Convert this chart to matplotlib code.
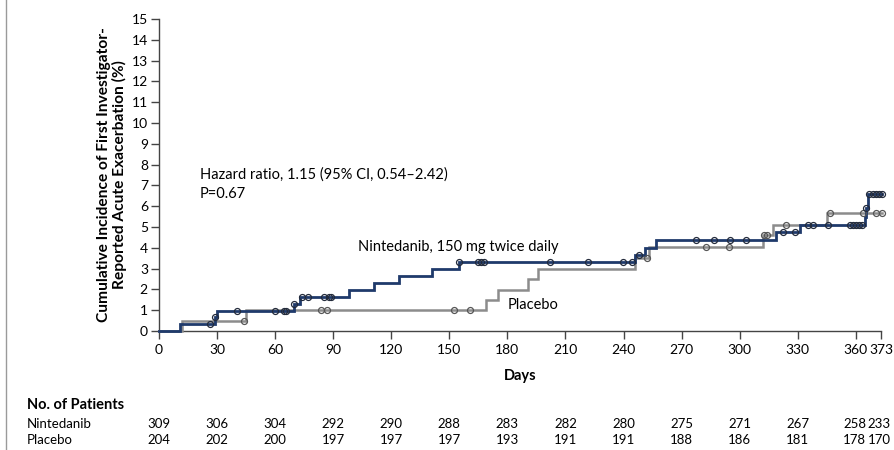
import matplotlib
matplotlib.use("Agg")
import matplotlib.pyplot as plt
from matplotlib.lines import Line2D
import numpy as np

plt.rcParams['font.family'] = ['Lato', 'DejaVu Sans']

# Kaplan-Meier style cumulative incidence: step times (days) and levels (%)
nint_times = [0, 11, 29, 30, 70, 73, 98, 111, 124, 141, 155, 246, 251, 257,
              318.5, 331, 364.5, 365.5, 366.5]
nint_pct = [0, 0.33, 0.65, 0.98, 1.30, 1.63, 1.97, 2.32, 2.65, 2.98, 3.33,
            3.65, 4.00, 4.37, 4.75, 5.10, 5.50, 5.90, 6.60]
nint_censor = [26.5, 29, 40.5, 60, 64.5, 65.5, 70, 74, 77, 85, 88, 89, 155,
               165, 166.5, 168, 202, 221.5, 239.5, 244.5, 248, 277.5, 286.5,
               295, 303.5, 322.5, 328.5, 335.5, 338, 345.5, 357, 358.5, 360,
               361.5, 363, 365.5, 367, 369, 370.5, 372, 373.5]

plac_times = [0, 12, 45, 169, 175, 190.5, 196, 246, 253, 312, 317, 345]
plac_pct = [0, 0.50, 1.00, 1.50, 1.98, 2.48, 2.98, 3.50, 4.02, 4.60, 5.10, 5.65]
plac_censor = [44, 83.5, 87, 152.5, 160.5, 252, 282.5, 294.5, 312.5, 314,
               324, 346.5, 363.5, 370.5, 373.5]

end_day = 373.5

x_ticks = [0, 30, 60, 90, 120, 150, 180, 210, 240, 270, 300, 330, 360, 373]
y_ticks = list(range(0, 16))

risk_nint = [309, 306, 304, 292, 290, 288, 283, 282, 280, 275, 271, 267, 258, 233]
risk_plac = [204, 202, 200, 197, 197, 197, 193, 191, 191, 188, 186, 181, 178, 170]

NAVY = '#1f3a6b'
GREY = '#8c8c8c'

fig = plt.figure(figsize=(8.94, 4.5), dpi=100)
ax = fig.add_axes([159 / 894, 1 - 331 / 450, 722 / 894, 312 / 450])


def step_level(times, pct, t):
    idx = np.searchsorted(times, t, side='right') - 1
    return pct[idx]


def draw_curve(times, pct, censor, color, lw, mcolor):
    xs = list(times) + [end_day]
    ys = list(pct) + [pct[-1]]
    ax.step(xs, ys, where='post', color=color, lw=lw, clip_on=False,
            solid_joinstyle='miter', zorder=3)
    cy = [step_level(times, pct, t) for t in censor]
    ax.plot(censor, cy, 'o', ms=4.3, mfc='none', mec=mcolor, mew=0.9,
            clip_on=False, zorder=4)


draw_curve(plac_times, plac_pct, plac_censor, GREY, 1.8, '#555555')
draw_curve(nint_times, nint_pct, nint_censor, NAVY, 2.0, '#222a3a')

ax.set_xlim(0, 373)
ax.set_ylim(0, 15)
ax.set_xticks(x_ticks)
ax.set_xticklabels([str(t) for t in x_ticks])
ax.set_yticks(y_ticks)
ax.set_yticklabels([str(t) for t in y_ticks])
for s in ['top', 'right']:
    ax.spines[s].set_visible(False)
for s in ['left', 'bottom']:
    ax.spines[s].set_color('#444444')
    ax.spines[s].set_linewidth(1.0)
ax.tick_params(axis='both', direction='out', length=6, width=1.0,
               color='#444444', labelsize=10, pad=2)
ax.tick_params(axis='x', pad=3)

ax.set_xlabel('Days', fontsize=10.5, fontweight='bold', labelpad=10)
ax.set_ylabel('Cumulative Incidence of First Investigator-\n'
              'Reported Acute Exacerbation (%)', fontsize=11.2,
              fontweight='bold', labelpad=3, linespacing=1.15)

ax.text(21, 7.85, 'Hazard ratio, 1.15 (95% CI, 0.54\u20132.42)\nP=0.67',
        fontsize=10.5, va='top', ha='left', linespacing=1.45)
ax.text(103, 3.85, 'Nintedanib, 150 mg twice daily', fontsize=10.5,
        ha='left', va='baseline')
ax.text(180, 1.05, 'Placebo', fontsize=10.5, ha='left', va='baseline')

# Number-at-risk table
fig.text(27 / 894, 1 - 405 / 450, 'No. of Patients', fontsize=10.5,
         fontweight='bold', va='center', ha='left')
rows = [('Nintedanib', risk_nint, 424), ('Placebo', risk_plac, 440)]
for name, vals, ypix in rows:
    fig.text(27 / 894, 1 - ypix / 450, name, fontsize=9.5, va='center',
             ha='left')
    for t, v in zip(x_ticks, vals):
        xd = ax.transData.transform((t, 0))[0]
        xf = fig.transFigure.inverted().transform((xd, 0))[0]
        if t == 360:
            xf -= 1 / 894
        elif t == 373:
            xf -= 2 / 894
        fig.text(xf, 1 - ypix / 450, str(v), fontsize=9.5, va='center',
                 ha='center')

# thin page rule along the left edge
fig.add_artist(Line2D([6 / 894, 6 / 894], [0, 1], color='#9a9a9a', lw=1.0))

fig.savefig('out.png', dpi=100)
